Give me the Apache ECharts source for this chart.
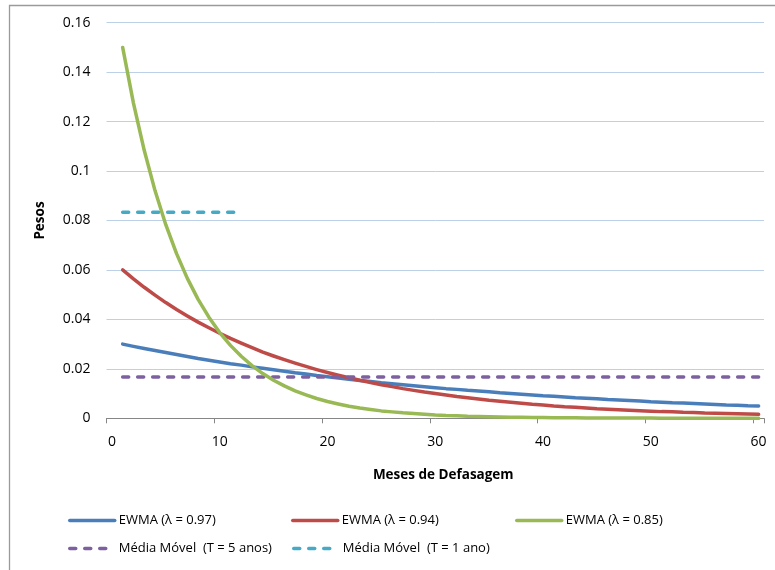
<!DOCTYPE html>
<html>
<head>
<meta charset="utf-8">
<script src="https://cdn.jsdelivr.net/npm/echarts@6/dist/echarts.min.js"></script>
<style>
html,body{margin:0;padding:0;background:#fff;}
#chart{width:775px;height:570px;}
</style>
</head>
<body>
<div id="chart"></div>
<script>
// Category labels (months of lag); month 0 carries no data
var months = [0,1,2,3,4,5,6,7,8,9,10,11,12,13,14,15,16,17,18,19,20,21,22,23,24,25,26,27,28,29,30,
  31,32,33,34,35,36,37,38,39,40,41,42,43,44,45,46,47,48,49,50,51,52,53,54,55,56,57,58,59,60];

var yTicks = [0, 0.02, 0.04, 0.06, 0.08, 0.1, 0.12, 0.14, 0.16];

var seriesNames = ['EWMA (λ = 0.97)', 'EWMA (λ = 0.94)', 'EWMA (λ = 0.85)',
  'Média Móvel  (T = 5 anos)', 'Média Móvel  (T = 1 ano)'];

// weights for months 1..60
var ewma97 = [0.0300,0.0291,0.0282,0.0274,0.0266,0.0258,0.0250,0.0242,0.0235,0.0228,
  0.0221,0.0215,0.0208,0.0202,0.0196,0.0190,0.0184,0.0179,0.0173,0.0168,
  0.0163,0.0158,0.0153,0.0149,0.0144,0.0140,0.0136,0.0132,0.0128,0.0124,
  0.0120,0.0117,0.0113,0.0110,0.0107,0.0103,0.0100,0.0097,0.0094,0.0091,
  0.0089,0.0086,0.0083,0.0081,0.0079,0.0076,0.0074,0.0072,0.0070,0.0067,
  0.0065,0.0063,0.0062,0.0060,0.0058,0.0056,0.0054,0.0053,0.0051,0.0050];

var ewma94 = [0.0600,0.0564,0.0530,0.0498,0.0468,0.0440,0.0414,0.0389,0.0366,0.0344,
  0.0323,0.0304,0.0286,0.0268,0.0252,0.0237,0.0223,0.0210,0.0197,0.0185,
  0.0174,0.0164,0.0154,0.0145,0.0136,0.0128,0.0120,0.0113,0.0106,0.0100,
  0.0094,0.0088,0.0083,0.0078,0.0073,0.0069,0.0065,0.0061,0.0057,0.0054,
  0.0050,0.0047,0.0045,0.0042,0.0039,0.0037,0.0035,0.0033,0.0031,0.0029,
  0.0027,0.0026,0.0024,0.0023,0.0021,0.0020,0.0019,0.0018,0.0017,0.0016];

var ewma85 = [0.1500,0.1275,0.1084,0.0921,0.0783,0.0666,0.0566,0.0481,0.0409,0.0347,
  0.0295,0.0251,0.0213,0.0181,0.0154,0.0131,0.0111,0.0095,0.0080,0.0068,
  0.0058,0.0049,0.0042,0.0036,0.0030,0.0026,0.0022,0.0019,0.0016,0.0013,
  0.0011,0.0010,0.0008,0.0007,0.0006,0.0005,0.0004,0.0004,0.0003,0.0003,
  0.0002,0.0002,0.0002,0.0001,0.0001,0.0001,0.0001,0.0001,0.0001,0.0001,
  0.0000,0.0000,0.0000,0.0000,0.0000,0.0000,0.0000,0.0000,0.0000,0.0000];

var mm5anos = [0.0167,0.0167,0.0167,0.0167,0.0167,0.0167,0.0167,0.0167,0.0167,0.0167,
  0.0167,0.0167,0.0167,0.0167,0.0167,0.0167,0.0167,0.0167,0.0167,0.0167,
  0.0167,0.0167,0.0167,0.0167,0.0167,0.0167,0.0167,0.0167,0.0167,0.0167,
  0.0167,0.0167,0.0167,0.0167,0.0167,0.0167,0.0167,0.0167,0.0167,0.0167,
  0.0167,0.0167,0.0167,0.0167,0.0167,0.0167,0.0167,0.0167,0.0167,0.0167,
  0.0167,0.0167,0.0167,0.0167,0.0167,0.0167,0.0167,0.0167,0.0167,0.0167];

var mm1ano = [0.0833,0.0833,0.0833,0.0833,0.0833,0.0833,0.0833,0.0833,0.0833,0.0833,0.0833,0.0833];

var colors = ['#4a7ebb', '#be4b48', '#98b954', '#7d60a0', '#46aac5'];
var seriesData = [ewma97, ewma94, ewma85, mm5anos, mm1ano];

var FONT = '"Open Sans", Lato, sans-serif';

var chart = echarts.init(document.getElementById('chart'), null, {renderer: 'canvas'});

var series = seriesData.map(function (arr, i) {
  var dashed = i >= 3;
  return {
    name: seriesNames[i],
    type: 'line',
    data: [null].concat(arr),
    symbol: 'none',
    smooth: false,
    connectNulls: false,
    animation: false,
    z: i === 2 ? 4 : 3,
    lineStyle: {
      color: colors[i],
      width: 3.5,
      type: dashed ? [6, 9] : 'solid',
      cap: 'round',
      join: 'round'
    },
    itemStyle: {color: colors[i]}
  };
});

function legendAt(idx, left, top) {
  var dashed = idx >= 3;
  return {
    data: [seriesNames[idx]],
    left: left,
    top: top,
    itemWidth: 45,
    itemHeight: 12,
    itemGap: 0,
    padding: 0,
    itemStyle: {opacity: 0, color: 'rgba(0,0,0,0)', borderWidth: 0},
    lineStyle: {width: 3.5, color: colors[idx], type: dashed ? [6, 9] : 'solid', cap: 'round'},
    textStyle: {fontFamily: FONT, fontSize: 13, color: '#000', padding: [0, 0, 0, -1]},
    selectedMode: false
  };
}

var option = {
  backgroundColor: '#fff',
  animation: false,
  color: colors,
  grid: {left: 106.5, right: 11, top: 22.7, bottom: 151.7, containLabel: false},
  xAxis: {
    type: 'category',
    data: months.map(String),
    boundaryGap: true,
    name: 'Meses de Defasagem',
    nameLocation: 'middle',
    nameGap: 50,
    nameTextStyle: {fontFamily: FONT, fontSize: 13.5, fontWeight: 'bold', color: '#000', padding: [0, 0, 0, 16]},
    axisLine: {show: true, lineStyle: {color: '#868686', width: 1}},
    axisTick: {show: true, interval: 9, length: 5, lineStyle: {color: '#868686'}},
    axisLabel: {interval: 9, margin: 17, fontFamily: FONT, fontSize: 14, color: '#000'},
    splitLine: {show: false}
  },
  yAxis: {
    type: 'value',
    min: yTicks[0],
    max: yTicks[yTicks.length - 1],
    interval: yTicks[1] - yTicks[0],
    name: 'Pesos',
    nameLocation: 'middle',
    nameGap: 59,
    nameTextStyle: {fontFamily: FONT, fontSize: 13.5, fontWeight: 'bold', color: '#000'},
    axisLine: {show: false},
    axisTick: {show: false},
    axisLabel: {margin: 16, fontFamily: FONT, fontSize: 14, color: '#000'},
    splitLine: {show: true, lineStyle: {color: '#bcd0e8', width: 1}}
  },
  legend: [
    legendAt(0, 68, 514),
    legendAt(1, 291, 514),
    legendAt(2, 515, 514),
    legendAt(3, 68, 542),
    legendAt(4, 292, 542)
  ],
  graphic: [{
    type: 'rect',
    shape: {x: 9.5, y: 5.5, width: 900, height: 700},
    style: {fill: 'none', stroke: '#9a9a9a', lineWidth: 1.3},
    silent: true,
    z: -10
  }],
  series: series
};

chart.setOption(option);
</script>
</body>
</html>
